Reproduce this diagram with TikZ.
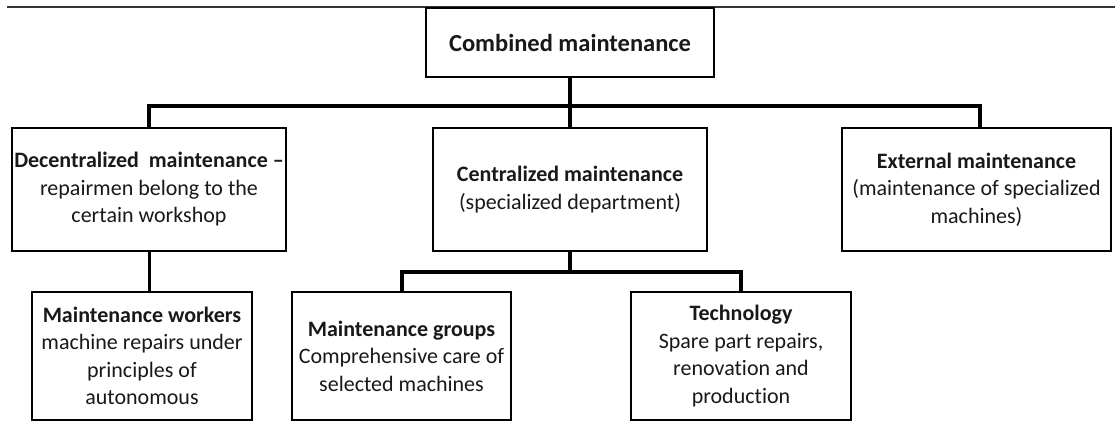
\documentclass[tikz,border=0pt]{standalone}
\usepackage{fontspec}
\setmainfont[Ligatures=NoCommon]{Carlito}
\begin{document}
\begin{tikzpicture}[x=1pt,y=-1pt,
  box/.style={draw=black, line width=1.8pt, fill=white, inner sep=0pt, align=center,
    font=\fontsize{22}{27.5}\selectfont, text=black!90},
  topbox/.style={box, font=\fontsize{24.5}{29}\selectfont\bfseries},
  link/.style={draw=black, line width=4pt, line join=miter},
  thinlink/.style={draw=black, line width=3pt},
  rule/.style={draw=black!80, line width=1.4pt}]
\useasboundingbox (0,0) rectangle (1115,421);
% top rule
\coordinate (ruleL) at (7,7);
\coordinate (ruleR) at (1115,7);
\draw[rule] (ruleL) -- (ruleR);
% boxes
\node[topbox, minimum width=288pt, minimum height=69pt] (top) at (570,42.5) {Combined maintenance};
\node[box, minimum width=274pt, minimum height=123pt] (left) at (149,189.5)
  {\textbf{Decentralized\ \ maintenance –}\\repairmen belong to the\\certain workshop};
\node[box, minimum width=274pt, minimum height=123pt] (center) at (570,189.5)
  {\textbf{Centralized maintenance}\\(specialized department)};
\node[box, minimum width=269pt, minimum height=123pt] (right) at (976.5,189.5)
  {\textbf{External maintenance}\\(maintenance of specialized\\machines)};
\node[box, minimum width=220pt, minimum height=128pt] (workers) at (142,356)
  {\textbf{Maintenance workers}\\machine repairs under\\principles of\\autonomous};
\node[box, minimum width=219pt, minimum height=128pt] (groups) at (401.5,356)
  {\textbf{Maintenance groups}\\Comprehensive care of\\selected machines};
\node[box, minimum width=220pt, minimum height=128pt] (tech) at (741,356)
  {\textbf{Technology}\\Spare part repairs,\\renovation and\\production};
% connectors
\coordinate (bar) at (570,106);
\coordinate (bar2) at (570,272);
\coordinate (rightdrop) at ([xshift=3.5pt]right.north);
\draw[link] (top.south) -- (bar);
\draw[link] (left.north) |- (bar) -| (rightdrop);
\draw[link] (bar) -- (center.north);
\draw[thinlink] (left.south) -- (left.south |- workers.north);
\draw[link] (center.south) -- (bar2);
\draw[link] (groups.north) |- (bar2) -| (tech.north);
\end{tikzpicture}
\end{document}
